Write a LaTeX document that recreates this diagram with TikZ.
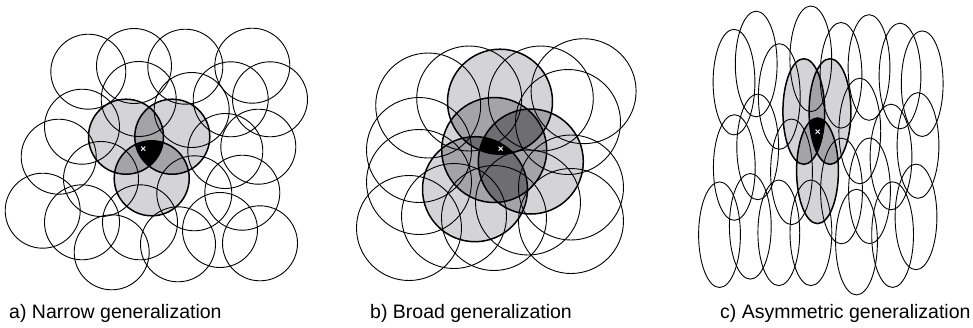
\documentclass[tikz,border=0pt]{standalone}
\usepackage{fontspec}
\setmainfont{Liberation Sans}
\definecolor{lg}{HTML}{D4D4D6}
\definecolor{mg}{HTML}{A4A4A6}
\definecolor{dg}{HTML}{6E6E70}
\begin{document}
\begin{tikzpicture}[x=1pt,y=-1pt,
  plain/.style={line width=0.9pt},
  hot/.style={line width=1.5pt},
  xmark/.style={text=white,font=\bfseries\fontsize{10}{10}\selectfont,inner sep=0pt},
  captext/.style={anchor=base west,font=\fontsize{19.5}{21}\selectfont,inner sep=0pt}]
\useasboundingbox (0,0) rectangle (973,327);
% ---------------- panel a ----------------
\def\ra{37.5}
\coordinate (a1) at (126,136.7);
\coordinate (a2) at (172.3,136.7);
\coordinate (a3) at (151.7,178.3);
\foreach \c in {a1,a2,a3}{\fill[lg] (\c) circle (\ra);}
\begin{scope}\clip (a1) circle (\ra); \fill[mg] (a2) circle (\ra); \fill[mg] (a3) circle (\ra);\end{scope}
\begin{scope}\clip (a2) circle (\ra); \fill[mg] (a3) circle (\ra);\end{scope}
\begin{scope}\clip (a1) circle (\ra); \clip (a2) circle (\ra); \fill[black] (a3) circle (\ra);\end{scope}
\foreach \p in {(88.3,71.7),(134,66),(185.3,66.7),(252.3,65.7),(138.7,99),(191.7,110),(230.7,99.3),(270,99.3),(82,126.7),(58.7,156.7),(225.3,151),(258.3,146.7),(101,179),(194.3,193.3),(242.3,192.7),(42.7,210.7),(82,222.3),(140,222.3),(111.7,252.3),(178,244.3),(220,230),(260,243.3)}
  {\draw[plain] \p circle (\ra);}
\foreach \c in {a1,a2,a3}{\draw[hot] (\c) circle (\ra);}
\node[xmark] (xa) at (143.3,149.3) {×};
% ---------------- panel b ----------------
\def\rb{52.5}
\coordinate (b1) at (500,101.7);
\coordinate (b2) at (494.2,150);
\coordinate (b3) at (530.8,161.5);
\coordinate (b4) at (475,189.2);
\foreach \c in {b1,b2,b3,b4}{\fill[lg] (\c) circle (\rb);}
\begin{scope}\clip (b1) circle (\rb); \fill[mg] (b2) circle (\rb); \fill[mg] (b3) circle (\rb); \fill[mg] (b4) circle (\rb);\end{scope}
\begin{scope}\clip (b2) circle (\rb); \fill[mg] (b3) circle (\rb); \fill[mg] (b4) circle (\rb);\end{scope}
\begin{scope}\clip (b3) circle (\rb); \fill[mg] (b4) circle (\rb);\end{scope}
\begin{scope}\clip (b1) circle (\rb); \clip (b2) circle (\rb); \fill[dg] (b3) circle (\rb); \fill[dg] (b4) circle (\rb);\end{scope}
\begin{scope}\clip (b1) circle (\rb); \clip (b3) circle (\rb); \fill[dg] (b4) circle (\rb);\end{scope}
\begin{scope}\clip (b2) circle (\rb); \clip (b3) circle (\rb); \fill[dg] (b4) circle (\rb);\end{scope}
\begin{scope}\clip (b1) circle (\rb); \clip (b2) circle (\rb); \clip (b3) circle (\rb); \fill[black] (b4) circle (\rb);\end{scope}
\foreach \p in {(428.2,105.5),(469.2,98.5),(540.8,98.5),(583.6,91.2),(568,122),(419,150),(419,182),(571,187.5),(409,228),(454,216),(494,218),(528,202.5),(571,221)}
  {\draw[plain] \p circle (\rb);}
\foreach \c in {b1,b2,b3,b4}{\draw[hot] (\c) circle (\rb);}
\node[xmark] (xb) at (500.7,150) {×};
% ---------------- panel c ----------------
\def\ex{20.9}\def\ey{52.8}
\coordinate (c1) at (803.8,111.5);
\coordinate (c2) at (830,111.5);
\coordinate (c3) at (817.5,170.8);
\foreach \c in {c1,c2,c3}{\fill[lg] (\c) ellipse ({\ex} and {\ey});}
\begin{scope}\clip (c1) ellipse ({\ex} and {\ey}); \fill[mg] (c2) ellipse ({\ex} and {\ey}); \fill[mg] (c3) ellipse ({\ex} and {\ey});\end{scope}
\begin{scope}\clip (c2) ellipse ({\ex} and {\ey}); \fill[mg] (c3) ellipse ({\ex} and {\ey});\end{scope}
\begin{scope}\clip (c1) ellipse ({\ex} and {\ey}); \clip (c2) ellipse ({\ex} and {\ey}); \fill[black] (c3) ellipse ({\ex} and {\ey});\end{scope}
\foreach \p in {(734,82.1),(756.2,64),(779.3,96.5),(810.8,58.8),(841,75.3),(869,67.5),(900,76),(922.2,83.7),(859.8,131),(891,157),(918,145.5),(734.3,167.5),(757.7,146.9),(791.5,171.8),(841.5,191),(869.5,190.8),(719.5,234.7),(750.3,226.3),(778.8,232.8),(810.9,232.8),(856.5,242.1),(892.6,234.6),(916,216.9)}
  {\draw[plain] \p ellipse ({\ex} and {\ey});}
\foreach \c in {c1,c2,c3}{\draw[hot] (\c) ellipse ({\ex} and {\ey});}
\node[xmark] (xc) at (817.7,132.3) {×};
% ---------------- captions ----------------
\node[captext] (la) at (9,318) {a) Narrow generalization};
\node[captext] (lb) at (370,318) {b) Broad generalization};
\node[captext] (lc) at (720,318) {c) Asymmetric generalization};
\end{tikzpicture}
\end{document}
